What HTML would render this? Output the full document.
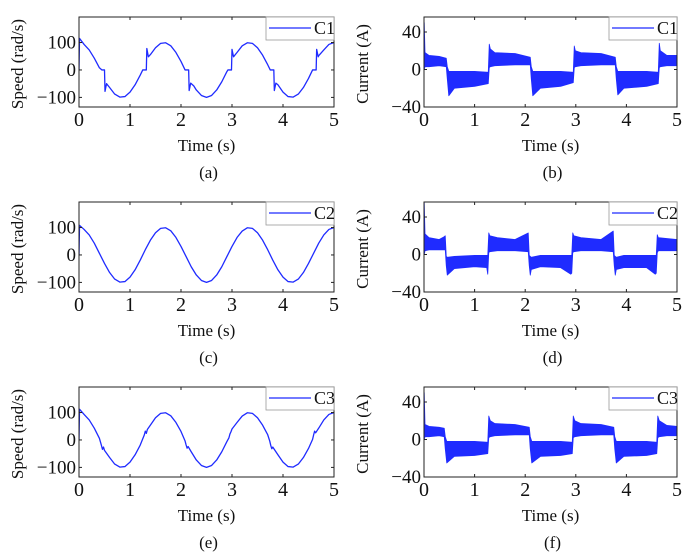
<!DOCTYPE html>
<html><head><meta charset="utf-8">
<style>
html,body{margin:0;padding:0;background:#fff;}
svg{display:block;font-family:"Liberation Serif","DejaVu Serif",serif;}
svg text{font-family:"Liberation Serif","DejaVu Serif",serif;fill:#111;}
</style></head>
<body>
<svg id="fig" width="685" height="555" viewBox="0 0 685 555" font-family="Liberation Serif, DejaVu Serif, serif" xmlns="http://www.w3.org/2000/svg"></svg>
<script>
// ---------- data ----------
const xTicks = [0,1,2,3,4,5];
const speedTicks = [100,0,-100];
const speedTickLabels = ["100","0","\u2212100"];
const curTicks = [40,0,-40];
const curTickLabels = ["40","0","\u221240"];

const c1SpeedT = [0,0.01,0.1,0.2,0.3,0.4,0.45,0.5,0.51,0.54,0.6,0.7,0.8,0.9,1.0,1.1,1.2,1.25,1.32,1.33,1.36,1.4,1.5,1.6,1.7,1.8,1.9,2.0,2.08,2.15,2.16,2.19,2.25,2.3,2.4,2.5,2.6,2.7,2.8,2.9,2.92,2.99,3.0,3.03,3.1,3.2,3.3,3.4,3.5,3.6,3.7,3.75,3.82,3.83,3.86,3.9,4.0,4.1,4.2,4.3,4.4,4.5,4.58,4.65,4.66,4.69,4.7,4.8,4.9,5.0];
const c1SpeedV = [0,115,93,73,43,8,0,0,-78,-50,-64,-88,-99,-97,-81,-54,-19,0,0,78,48,56,81,97,99,88,64,31,0,0,-75,-48,-58,-73,-93,-100,-93,-73,-43,-6,0,0,75,48,64,88,99,97,81,54,19,0,0,-75,-48,-54,-81,-97,-99,-88,-64,-31,0,0,75,48,52,73,93,100];

const c2SpeedT = [0,0.01,0.1,0.2,0.3,0.4,0.5,0.6,0.7,0.8,0.9,1.0,1.1,1.2,1.3,1.4,1.5,1.6,1.7,1.8,1.9,2.0,2.1,2.2,2.3,2.4,2.5,2.6,2.7,2.8,2.9,3.0,3.1,3.2,3.3,3.4,3.5,3.6,3.7,3.8,3.9,4.0,4.1,4.2,4.3,4.4,4.5,4.6,4.7,4.8,4.9,5.0];
const c2SpeedV = [0,108,93,73,43,6,-31,-64,-88,-99,-97,-81,-54,-19,19,54,81,97,99,88,64,31,-6,-43,-73,-93,-100,-93,-73,-43,-6,31,64,87,99,97,81,54,19,-19,-54,-81,-97,-99,-88,-64,-31,6,43,73,93,100];

const c3SpeedT = [0,0.01,0.1,0.2,0.3,0.4,0.44,0.46,0.48,0.5,0.6,0.7,0.8,0.9,1.0,1.1,1.2,1.28,1.3,1.32,1.34,1.4,1.5,1.6,1.7,1.8,1.9,2.0,2.08,2.1,2.12,2.14,2.2,2.3,2.4,2.5,2.6,2.7,2.8,2.9,2.94,2.96,2.98,3.0,3.1,3.2,3.3,3.4,3.5,3.6,3.7,3.74,3.76,3.78,3.8,3.9,4.0,4.1,4.2,4.3,4.4,4.5,4.58,4.6,4.62,4.64,4.7,4.8,4.9,5.0];
const c3SpeedV = [0,112,93,73,43,6,-20,-34,-26,-38,-64,-88,-99,-97,-81,-54,-19,18,32,24,38,54,81,97,99,88,64,31,-4,-18,-30,-24,-43,-73,-93,-100,-93,-73,-43,-6,8,22,30,40,64,87,99,97,81,54,19,-4,-20,-32,-26,-54,-81,-97,-99,-88,-64,-31,2,18,32,26,43,73,93,100];

const c1CurT  = [0,0.005,0.02,0.1,0.3,0.44,0.46,0.49,0.6,1.0,1.27,1.29,1.31,1.4,1.8,2.1,2.12,2.15,2.3,2.7,2.95,2.97,2.99,3.1,3.5,3.78,3.8,3.83,3.95,4.4,4.63,4.65,4.67,4.8,5.0];
const c1CurHi = [50,50,18,15,14,12,3,-2,-2,-2,-3,27,22,18,17,13,3,-2,-2,-2,-3,25,20,18,17,13,3,-2,-2,-2,-3,28,20,15,15];
const c1CurLo = [0,0,3,3,4,3,-10,-28,-20,-18,-15,2,3,4,5,5,-10,-28,-20,-18,-14,2,3,4,5,5,-10,-27,-20,-18,-15,2,3,4,4];

const c2CurT  = [0,0.005,0.02,0.1,0.3,0.4,0.42,0.44,0.46,0.6,1.0,1.24,1.26,1.28,1.3,1.45,1.8,2.06,2.08,2.1,2.12,2.3,2.7,2.9,2.92,2.94,2.96,3.1,3.5,3.74,3.76,3.78,3.8,3.95,4.4,4.57,4.59,4.61,4.63,4.8,5.0];
const c2CurHi = [55,55,22,18,16,19,20,-2,-3,-2,-1,-1,-1,23,20,18,16,23,-1,-2,-3,-1,-1,-1,-1,23,20,18,16,25,-1,-2,-3,-1,-1,-1,-1,21,18,17,16];
const c2CurLo = [0,0,4,5,5,5,5,-12,-22,-15,-13,-14,-21,2,3,4,4,3,-12,-22,-16,-13,-14,-21,-20,2,3,4,4,3,-12,-22,-16,-14,-14,-21,-20,2,4,4,4];

const c3CurT  = [0,0.005,0.02,0.1,0.3,0.4,0.42,0.45,0.6,1.0,1.26,1.28,1.31,1.4,1.8,2.08,2.1,2.13,2.3,2.7,2.93,2.95,2.98,3.1,3.5,3.75,3.77,3.8,3.95,4.4,4.6,4.62,4.65,4.8,5.0];
const c3CurHi = [50,50,16,14,13,12,3,-2,-2,-2,-3,25,20,17,16,13,3,-2,-2,-2,-3,25,20,17,16,13,3,-2,-2,-2,-3,25,20,15,14];
const c3CurLo = [0,0,3,3,4,3,-10,-25,-18,-17,-15,2,3,4,5,5,-10,-25,-18,-17,-15,2,3,4,5,5,-10,-25,-18,-17,-15,2,3,4,4];

// ---------- drawing ----------
const NS = "http://www.w3.org/2000/svg";
const svg = document.getElementById("fig");
const BLUE = "#1f2bff";
const FONT = "Liberation Serif, DejaVu Serif, serif";
function el(tag, attrs, parent){
  const e = document.createElementNS(NS, tag);
  for (const k in attrs) e.setAttribute(k, attrs[k]);
  if (tag==="text") e.setAttribute("font-family", FONT);
  (parent||svg).appendChild(e);
  return e;
}

const panels = [
  {kind:"speed", x0:79, x1:334, top:17, letter:"(a)", legend:"C1", t:c1SpeedT, v:c1SpeedV, name:"panel-a-speed-c1"},
  {kind:"cur", x0:424, x1:677, top:17, letter:"(b)", legend:"C1", t:c1CurT, hi:c1CurHi, lo:c1CurLo, name:"panel-b-current-c1"},
  {kind:"speed", x0:79, x1:334, top:202, letter:"(c)", legend:"C2", t:c2SpeedT, v:c2SpeedV, name:"panel-c-speed-c2"},
  {kind:"cur", x0:424, x1:677, top:202, letter:"(d)", legend:"C2", t:c2CurT, hi:c2CurHi, lo:c2CurLo, name:"panel-d-current-c2"},
  {kind:"speed", x0:79, x1:334, top:387, letter:"(e)", legend:"C3", t:c3SpeedT, v:c3SpeedV, name:"panel-e-speed-c3"},
  {kind:"cur", x0:424, x1:677, top:387, letter:"(f)", legend:"C3", t:c3CurT, hi:c3CurHi, lo:c3CurLo, name:"panel-f-current-c3"}
];

panels.forEach(p=>{
  const H = 90, bottom = p.top + H;
  const g = el("g", {});
  
  
  const ymin = p.kind==="speed" ? -135 : -40;
  const ymax = p.kind==="speed" ? 193 : 56;
  const xs = t => p.x0 + (t/5)*(p.x1-p.x0);
  const ys = v => bottom - (v-ymin)/(ymax-ymin)*H;

  const cid = "clip"+p.letter.replace(/\W/g,"");
  const cp = el("clipPath",{id:cid},g);
  el("rect",{x:p.x0,y:p.top,width:p.x1-p.x0,height:H},cp);

  if (p.kind==="speed"){
    let d = "";
    p.t.forEach((t,i)=>{ d += (i?"L":"M")+xs(t).toFixed(2)+","+ys(p.v[i]).toFixed(2); });
    const path = el("path",{d:d,fill:"none",stroke:BLUE,"stroke-width":1.3,"stroke-linejoin":"round","clip-path":"url(#"+cid+")"},g);
    
    
  } else {
    let d = "";
    p.t.forEach((t,i)=>{ d += (i?"L":"M")+xs(t).toFixed(2)+","+ys(p.hi[i]).toFixed(2); });
    for (let i=p.t.length-1;i>=0;i--) d += "L"+xs(p.t[i]).toFixed(2)+","+ys(p.lo[i]).toFixed(2);
    d += "Z";
    const band = el("path",{d:d,fill:BLUE,stroke:BLUE,"stroke-width":0.8,"stroke-linejoin":"round","clip-path":"url(#"+cid+")"},g);
    
    
  }

  const box = el("rect",{x:p.x0,y:p.top,width:p.x1-p.x0,height:H,fill:"none",stroke:"#222","stroke-width":1},g);
  
  

  xTicks.forEach(t=>{
    const x = xs(t);
    el("line",{x1:x,x2:x,y1:bottom,y2:bottom-3,stroke:"#222","stroke-width":1},g);
    el("line",{x1:x,x2:x,y1:p.top,y2:p.top+3,stroke:"#222","stroke-width":1},g);
    const tx = el("text",{x:x,y:bottom+19,"font-size":20,"text-anchor":"middle"},g);
    tx.textContent = t;
    
    
  });
  const yt = p.kind==="speed" ? speedTicks : curTicks;
  const yl = p.kind==="speed" ? speedTickLabels : curTickLabels;
  yt.forEach((v,i)=>{
    const y = ys(v);
    el("line",{x1:p.x0,x2:p.x0+3,y1:y,y2:y,stroke:"#222","stroke-width":1},g);
    el("line",{x1:p.x1,x2:p.x1-3,y1:y,y2:y,stroke:"#222","stroke-width":1},g);
    const tx = el("text",{x:p.x0-3,y:y+6,"font-size":19,"text-anchor":"end"},g);
    tx.textContent = yl[i];
    
    
  });

  const cx = (p.x0+p.x1)/2;
  const xt = el("text",{x:cx,y:bottom+44,"font-size":17,"text-anchor":"middle"},g);
  xt.textContent = "Time (s)";
  
  
  const ylx = p.kind==="speed" ? 23 : 368;
  const yc = p.top + H/2 + 2;
  const ytt = el("text",{x:ylx,y:yc,"font-size":17,"text-anchor":"middle",transform:"rotate(-90 "+ylx+" "+yc+")"},g);
  ytt.textContent = p.kind==="speed" ? "Speed (rad/s)" : "Current (A)";
  
  

  const lt = el("text",{x:cx+2,y:bottom+71,"font-size":17,"text-anchor":"middle"},g);
  lt.textContent = p.letter;
  
  

  const lg = el("g",{},g);
  
  
  const lx0 = p.x1-68, ly0 = p.top;
  el("rect",{x:lx0,y:ly0,width:68,height:23,fill:"#fff",stroke:"#999","stroke-width":0.8},lg);
  el("line",{x1:lx0+3,x2:lx0+45,y1:ly0+11,y2:ly0+11,stroke:BLUE,"stroke-width":1.3},lg);
  const lt2 = el("text",{x:lx0+48,y:ly0+17,"font-size":18},lg);
  lt2.textContent = p.legend;
});
</script>
</body></html>
